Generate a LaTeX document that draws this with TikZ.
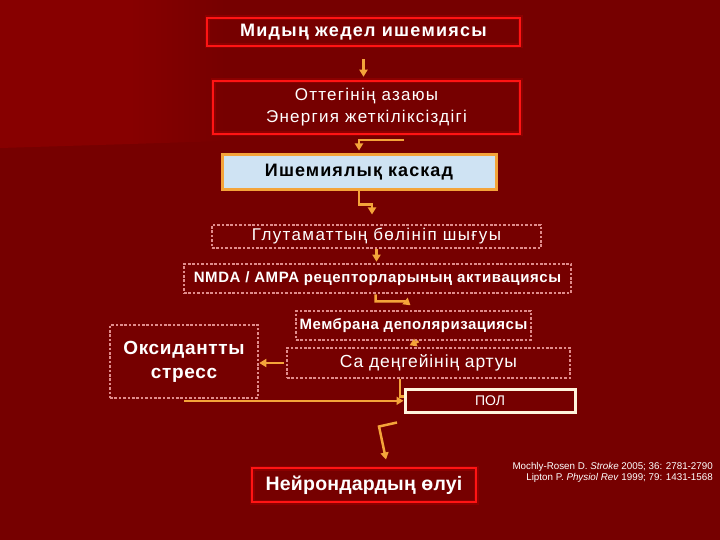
\documentclass[tikz,border=0pt]{standalone}
\usepackage{fontspec}
\setmainfont{Liberation Sans}
\usetikzlibrary{positioning,arrows.meta,calc}

\definecolor{bgdark}{HTML}{760000}
\definecolor{bglight}{HTML}{870000}
\definecolor{brightred}{HTML}{FF1414}
\definecolor{arroworange}{HTML}{F4A43A}
\definecolor{dotpink}{HTML}{E08C8C}
\definecolor{cascadeblue}{HTML}{CFE3F3}
\definecolor{polcream}{HTML}{FFF3DC}

\newcommand{\trackby}[1]{\addfontfeature{LetterSpace=#1}}

\begin{document}
\begin{tikzpicture}[
    x=1pt,
    y=-1pt,
    font=\fontsize{16}{22}\selectfont,
    box/.style={
        text=white,
        inner sep=0pt,
        align=center
    },
    redbox/.style={box,
        draw=brightred,
        line width=2.5pt,
        preaction={draw=red!60!black, line width=5pt, opacity=0.6}
    },
    dotbox/.style={box,
        draw=dotpink,
        line width=2.6pt,
        dash pattern=on 2.6pt off 1.8pt
    },
    cascadebox/.style={box,
        text=black,
        fill=cascadeblue,
        draw=arroworange,
        line width=3pt
    },
    polbox/.style={box,
        draw=polcream,
        line width=3pt
    },
    arrow/.style={-{Triangle[width=8pt,length=7pt]}, arroworange, line width=2.5pt},
    link/.style={arroworange, line width=2.5pt}
]

% ============================================================
% TŁO
% ============================================================
\fill[bgdark] (0,0) rectangle (720,540);
\fill[bglight] (0,0) -- (130.5,0) -- (130.5,144) -- (0,148) -- cycle;
\shade[left color=bglight, right color=bgdark]
    (130,0) -- (225,0) -- (225,141) -- (130,144) -- cycle;

% ============================================================
% GÓRNA CZĘŚĆ
% ============================================================
\node[redbox, minimum width=313, minimum height=28,
      font=\fontsize{18}{22}\selectfont\bfseries\trackby{7}] (ishemia) at (363.5,32)
    {Мидың жедел ишемиясы};
\node[redbox, minimum width=307, minimum height=53,
      font=\fontsize{17}{22}\selectfont\trackby{7.5}] (oxygen) at (366.5,107.5)
    {Оттегінің азаюы\\Энергия жеткіліксіздігі};
\node[cascadebox, minimum width=274, minimum height=35,
      font=\fontsize{18}{22}\selectfont\bfseries\trackby{6}] (cascade) at (359,172.5)
    {Ишемиялық каскад};

\draw[arrow, shorten <=12pt, shorten >=3pt] (ishemia.south) -- (ishemia.south |- oxygen.north);
\draw[arrow] ([xshift=37.5pt, yshift=-5pt]oxygen.south) -| ([yshift=3pt]cascade.north);
\draw[arrow] (cascade.south) -- ++(0,13) -- ++(13,0) -- ++(0,10);

% ============================================================
% KASKADA
% ============================================================
\node[dotbox, minimum width=329, minimum height=23,
      font=\fontsize{17}{20}\selectfont\trackby{8}] (glutamate) at (376.5,236.5)
    {Глутаматтың бөлініп шығуы};
\node[dotbox, minimum width=387, minimum height=29,
      font=\fontsize{15}{18}\selectfont\bfseries\trackby{4}] (nmda) at (377.5,278.5)
    {NMDA / AMPA рецепторларының активациясы};
\node[dotbox, minimum width=235, minimum height=29,
      font=\fontsize{15}{18}\selectfont\bfseries\trackby{3.5}] (membrane) at (413.5,325.5)
    {Мембрана деполяризациясы};
\node[dotbox, minimum width=283, minimum height=30,
      font=\fontsize{17.5}{20}\selectfont\trackby{5}] (calcium) at (428.5,363)
    {Са деңгейінің артуы};
\node[dotbox, minimum width=148, minimum height=73,
      font=\fontsize{19}{24}\selectfont\bfseries\trackby{3.5}] (oxidant) at (184,361.5)
    {Оксидантты\\стресс};
\node[polbox, minimum width=170, minimum height=23,
      font=\fontsize{14}{16}\selectfont] (pol) at (490,400.5)
    {ПОЛ};

\draw[arrow, shorten >=1pt] (glutamate.south) -- (glutamate.south |- nmda.north);
\draw[arrow] ([xshift=-2pt]nmda.south) -- ++(0,7) -- ++(30,0) -- ++(5,4);
\draw[arrow] ([xshift=5pt]membrane.south) -- ++(-9,4);
\draw[arrow, shorten <=2pt] (calcium.west) -- (calcium.west -| oxidant.east);
\draw[arrow] ([yshift=-1.5pt]oxidant.south) -- ([yshift=-1.5pt]oxidant.south -| pol.west);
\draw[link] ([xshift=-28.5pt]calcium.south) -- ++(0,17) -- ++(4,0);

% ============================================================
% WYNIK
% ============================================================
\node[redbox, minimum width=224, minimum height=34,
      font=\fontsize{19.5}{22}\selectfont\bfseries\trackby{1}] (death) at (364,485)
    {Нейрондардың өлуі};

\draw[arrow] ([xshift=-93pt, yshift=-9pt]pol.south) -- ++(-18,4) -- ++(7,33);

\node[text=white, align=right, anchor=east, inner sep=0pt,
      font=\fontsize{9.8}{11}\selectfont] (refs) at (713,472.5)
    {Mochly-Rosen D. \textit{Stroke} 2005; 36: 2781-2790\\
     Lipton P. \textit{Physiol Rev} 1999; 79: 1431-1568};

\end{tikzpicture}
\end{document}
